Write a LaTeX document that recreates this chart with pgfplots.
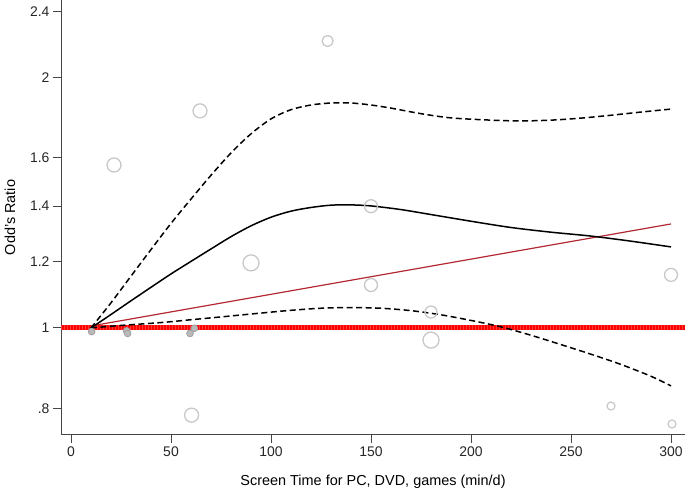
\documentclass[border=0pt]{standalone}
\usepackage{pgfplots}
\pgfplotsset{compat=1.18}
\usepackage{fontspec}
\setmainfont{Liberation Sans}
\definecolor{circgrey}{RGB}{200,200,200}
\definecolor{fillgrey}{RGB}{185,185,185}
\definecolor{edgegrey}{RGB}{160,160,160}
\definecolor{dred}{RGB}{180,40,50}
\definecolor{axgrey}{RGB}{70,70,70}
\begin{document}
\begin{tikzpicture}[x=1bp,y=1bp,font=\fontsize{14}{16}\selectfont]
\useasboundingbox (0,0) rectangle (685,493);
\begin{axis}[
  at={(61bp,58bp)}, anchor=south west,
  scale only axis, width=624bp, height=435bp,
  xmin=-5, xmax=307, ymode=log, ymin=0.744, ymax=2.475,
  axis x line*=bottom, axis y line*=left,
  axis line style={axgrey, line width=1bp, -},
  tick style={axgrey, line width=1bp},
  tick align=outside, major tick length=8bp,
  xtick={0,50,100,150,200,250,300},
  xticklabels={0,50,100,150,200,250,300},
  ytick={0.8,1,1.2,1.4,1.6,2,2.4},
  yticklabels={.8,1,1.2,1.4,1.6,2,2.4},
  minor tick num=0, minor ytick={},
  log basis y=10,
  ticklabel style={text=black!85, font=\fontsize{14}{16}\selectfont},
  label style={font=\fontsize{14.5}{17}\selectfont},
  xlabel={Screen Time for PC, DVD, games (min/d)},
  ylabel={Odd's Ratio},
  xlabel style={at={(axis description cs:0.5,-0.108)}, anchor=center},
  ylabel style={at={(axis description cs:-0.0817,0.5)}, anchor=center},
  clip=false,
]
% reference line at OR = 1
\addplot[red, line width=5bp] coordinates {(-5,1) (307,1)};
\addplot[red!55!white, line width=5bp, dash pattern=on 0.6bp off 2.4bp, opacity=0.5] coordinates {(-5,1) (307,1)};
% hollow study circles
\addplot[only marks, mark=o, mark size=8bp, mark options={circgrey, line width=1.3bp}]
  coordinates {(90,1.197) (180,0.967)};
\addplot[only marks, mark=o, mark size=7bp, mark options={circgrey, line width=1.3bp}]
  coordinates {(21.5,1.569) (64.5,1.822) (60.3,0.786)};
\addplot[only marks, mark=o, mark size=6.5bp, mark options={circgrey, line width=1.3bp}]
  coordinates {(150,1.40) (150,1.126) (300,1.158)};
\addplot[only marks, mark=o, mark size=6bp, mark options={circgrey, line width=1.3bp}]
  coordinates {(180,1.045)};
\addplot[only marks, mark=o, mark size=5.5bp, mark options={circgrey, line width=1.3bp}]
  coordinates {(128.3,2.21)};
\addplot[only marks, mark=o, mark size=4bp, mark options={circgrey, line width=1.2bp}]
  coordinates {(270,0.806) (300.5,0.767)};
% linear trend
\addplot[dred, line width=1.2bp] coordinates {(10,1.0055) (300,1.333)};
% spline fit
\addplot[black, line width=1.5bp, smooth] coordinates {
  (10,1) (20,1.038) (30,1.078) (40,1.119) (50,1.161) (60,1.202) (70,1.244)
  (80,1.287) (90,1.326) (100,1.358) (110,1.381) (120,1.395) (130,1.404)
  (140,1.405) (150,1.401) (165,1.387) (180,1.368) (200,1.343) (220,1.320)
  (240,1.303) (260,1.289) (280,1.271) (300,1.251)};
% upper CI
\addplot[black, line width=1.5bp, dash pattern=on 6bp off 3.5bp, smooth] coordinates {
  (10,1) (20,1.072) (30,1.154) (40,1.242) (50,1.335) (60,1.428) (70,1.525)
  (80,1.622) (90,1.710) (100,1.782) (110,1.828) (120,1.852) (130,1.862)
  (140,1.862) (150,1.852) (160,1.836) (175,1.808) (190,1.787) (210,1.776)
  (225,1.772) (240,1.776) (255,1.786) (270,1.800) (285,1.816) (300,1.831)};
% lower CI
\addplot[black, line width=1.5bp, dash pattern=on 6bp off 3.5bp, smooth] coordinates {
  (10,1) (25,1.007) (45,1.015) (60,1.023) (75,1.031) (95,1.042) (110,1.050)
  (125,1.056) (140,1.058) (155,1.056) (170,1.049) (185,1.037) (200,1.021)
  (215,1.003) (230,0.980) (245,0.955) (260,0.930) (275,0.904) (290,0.875) (300,0.852)};
% small filled circles near 1
\addplot[only marks, mark=*, mark size=3.4bp, mark options={fill=fillgrey, draw=edgegrey, line width=0.8bp}]
  coordinates {(10.3,0.990) (27.8,0.992) (28.3,0.985) (59.5,0.985) (61.7,0.999)};
\end{axis}
\end{tikzpicture}
\end{document}
